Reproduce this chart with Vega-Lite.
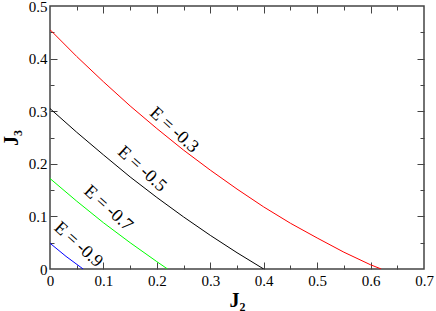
{
  "$schema": "https://vega.github.io/schema/vega-lite/v6.json",
  "autosize": {"type": "none"},
  "width": 374,
  "height": 263,
  "padding": {"left": 50, "top": 6, "right": 12, "bottom": 42},
  "background": "white",
  "config": {
    "view": {"stroke": "#444", "strokeWidth": 1.5},
    "axis": {"labelFont": "Liberation Serif, Times New Roman, serif", "titleFont": "Liberation Serif, Times New Roman, serif", "labelColor": "black", "titleColor": "black", "tickColor": "#444", "domain": false, "grid": false, "labelFlush": false, "labelOverlap": false, "labelBound": false}
  },
  "datasets": {
    "curves": [
      {"series": "E = -0.3", "J2": 0.0, "J3": 0.455},
      {"series": "E = -0.3", "J2": 0.05, "J3": 0.404},
      {"series": "E = -0.3", "J2": 0.1, "J3": 0.356},
      {"series": "E = -0.3", "J2": 0.15, "J3": 0.310},
      {"series": "E = -0.3", "J2": 0.2, "J3": 0.267},
      {"series": "E = -0.3", "J2": 0.25, "J3": 0.226},
      {"series": "E = -0.3", "J2": 0.3, "J3": 0.188},
      {"series": "E = -0.3", "J2": 0.35, "J3": 0.152},
      {"series": "E = -0.3", "J2": 0.4, "J3": 0.118},
      {"series": "E = -0.3", "J2": 0.45, "J3": 0.087},
      {"series": "E = -0.3", "J2": 0.5, "J3": 0.059},
      {"series": "E = -0.3", "J2": 0.55, "J3": 0.032},
      {"series": "E = -0.3", "J2": 0.6, "J3": 0.008},
      {"series": "E = -0.3", "J2": 0.62, "J3": 0.0},
      {"series": "E = -0.5", "J2": 0.0, "J3": 0.305},
      {"series": "E = -0.5", "J2": 0.05, "J3": 0.260},
      {"series": "E = -0.5", "J2": 0.1, "J3": 0.217},
      {"series": "E = -0.5", "J2": 0.15, "J3": 0.175},
      {"series": "E = -0.5", "J2": 0.2, "J3": 0.136},
      {"series": "E = -0.5", "J2": 0.25, "J3": 0.099},
      {"series": "E = -0.5", "J2": 0.3, "J3": 0.064},
      {"series": "E = -0.5", "J2": 0.35, "J3": 0.031},
      {"series": "E = -0.5", "J2": 0.4, "J3": 0.0},
      {"series": "E = -0.7", "J2": 0.0, "J3": 0.172},
      {"series": "E = -0.7", "J2": 0.05, "J3": 0.129},
      {"series": "E = -0.7", "J2": 0.1, "J3": 0.088},
      {"series": "E = -0.7", "J2": 0.15, "J3": 0.050},
      {"series": "E = -0.7", "J2": 0.2, "J3": 0.014},
      {"series": "E = -0.7", "J2": 0.22, "J3": 0.0},
      {"series": "E = -0.9", "J2": 0.0, "J3": 0.049},
      {"series": "E = -0.9", "J2": 0.03, "J3": 0.024},
      {"series": "E = -0.9", "J2": 0.062, "J3": 0.0}
    ],
    "labels": [
      {"label": "E = -0.3", "J2": 0.232, "J3": 0.264},
      {"label": "E = -0.5", "J2": 0.172, "J3": 0.19},
      {"label": "E = -0.7", "J2": 0.109, "J3": 0.115},
      {"label": "E = -0.9", "J2": 0.053, "J3": 0.046}
    ]
  },
  "resolve": {"axis": {"x": "independent", "y": "independent"}},
  "layer": [
    {
      "data": {"name": "curves"},
      "mark": {"type": "line", "strokeWidth": 1, "clip": true},
      "encoding": {
        "x": {"field": "J2", "type": "quantitative", "scale": {"domain": [0, 0.7], "nice": false, "zero": false},
          "axis": {"orient": "bottom", "values": [0, 0.1, 0.2, 0.3, 0.4, 0.5, 0.6, 0.7], "format": "~g", "ticks": false, "labelPadding": 4, "labelFontSize": 15, "title": "J₂", "titleFontSize": 20, "titleFontWeight": "bold", "titlePadding": 2}},
        "y": {"field": "J3", "type": "quantitative", "scale": {"domain": [0, 0.5], "nice": false, "zero": false},
          "axis": {"orient": "left", "values": [0, 0.1, 0.2, 0.3, 0.4, 0.5], "format": "~g", "ticks": false, "labelPadding": 3, "labelFontSize": 15, "title": "J₃", "titleFontSize": 20, "titleFontWeight": "bold", "titlePadding": 7}},
        "color": {"field": "series", "type": "nominal", "scale": {"domain": ["E = -0.3", "E = -0.5", "E = -0.7", "E = -0.9"], "range": ["#ff0000", "#000000", "#00ff00", "#0000ff"]}, "legend": null},
        "order": {"field": "J2", "type": "quantitative"}
      }
    },
    {
      "data": {"name": "labels"},
      "mark": {"type": "text", "angle": 42, "font": "Liberation Serif, Times New Roman, serif", "fontSize": 18, "color": "black", "align": "center", "baseline": "middle"},
      "encoding": {
        "x": {"field": "J2", "type": "quantitative", "axis": null},
        "y": {"field": "J3", "type": "quantitative", "axis": null},
        "text": {"field": "label"}
      }
    },
    {
      "data": {"name": "curves"},
      "mark": {"type": "point", "opacity": 0},
      "encoding": {
        "x": {"field": "J2", "type": "quantitative", "axis": {"orient": "bottom", "values": [0.1, 0.2, 0.3, 0.4, 0.5, 0.6], "labels": false, "tickSize": -7, "tickWidth": 1, "title": null}},
        "y": {"field": "J3", "type": "quantitative", "axis": {"orient": "left", "values": [0.1, 0.2, 0.3, 0.4], "labels": false, "tickSize": -7, "tickWidth": 1, "title": null}}
      }
    },
    {
      "data": {"name": "curves"},
      "mark": {"type": "point", "opacity": 0},
      "encoding": {
        "x": {"field": "J2", "type": "quantitative", "axis": {"orient": "bottom", "values": [0.05, 0.15, 0.25, 0.35, 0.45, 0.55, 0.65], "labels": false, "tickSize": -4, "tickWidth": 1, "title": null}},
        "y": {"field": "J3", "type": "quantitative", "axis": {"orient": "left", "values": [0.05, 0.15, 0.25, 0.35, 0.45], "labels": false, "tickSize": -4, "tickWidth": 1, "title": null}}
      }
    },
    {
      "data": {"name": "curves"},
      "mark": {"type": "point", "opacity": 0},
      "encoding": {
        "x": {"field": "J2", "type": "quantitative", "axis": {"orient": "top", "values": [0.1, 0.2, 0.3, 0.4, 0.5, 0.6], "labels": false, "tickSize": -7, "tickWidth": 1, "title": null}},
        "y": {"field": "J3", "type": "quantitative", "axis": {"orient": "right", "values": [0.1, 0.2, 0.3, 0.4], "labels": false, "tickSize": -7, "tickWidth": 1, "title": null}}
      }
    },
    {
      "data": {"name": "curves"},
      "mark": {"type": "point", "opacity": 0},
      "encoding": {
        "x": {"field": "J2", "type": "quantitative", "axis": {"orient": "top", "values": [0.05, 0.15, 0.25, 0.35, 0.45, 0.55, 0.65], "labels": false, "tickSize": -4, "tickWidth": 1, "title": null}},
        "y": {"field": "J3", "type": "quantitative", "axis": {"orient": "right", "values": [0.05, 0.15, 0.25, 0.35, 0.45], "labels": false, "tickSize": -4, "tickWidth": 1, "title": null}}
      }
    }
  ]
}
